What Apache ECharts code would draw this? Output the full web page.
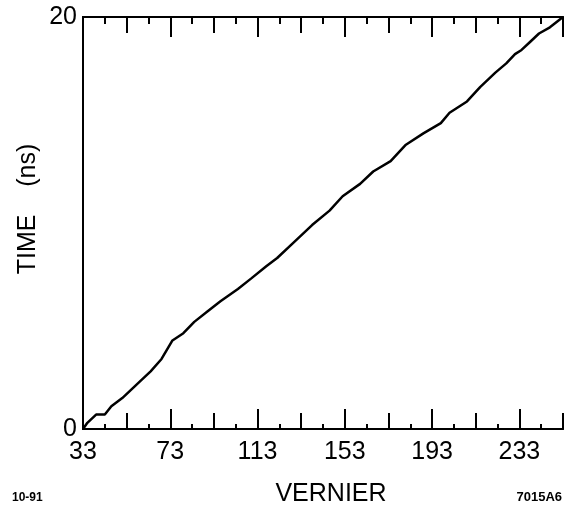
<!DOCTYPE html>
<html>
<head>
<meta charset="utf-8">
<script src="https://cdn.jsdelivr.net/npm/echarts@6/dist/echarts.min.js"></script>
<style>
  html, body { margin: 0; padding: 0; background: #fff; }
  #main { width: 568px; height: 509px; }
</style>
</head>
<body>
<div id="main"></div>
<script>
  var chart = echarts.init(document.getElementById('main'));

  var vernier = [33, 35, 39, 43, 46, 51, 55, 59, 64, 69, 74, 79, 84, 90, 96, 104, 110, 117, 122, 129,
                 138, 146, 152, 160, 166, 174, 181, 189, 197, 201, 209, 215, 222, 227, 231, 234, 238, 242, 247, 253];
  var timeNs = [0, 0.3, 0.7, 0.7, 1.1, 1.5, 1.9, 2.3, 2.8, 3.4, 4.3, 4.65, 5.2, 5.7, 6.2, 6.8, 7.3, 7.9, 8.3, 9.0,
                9.9, 10.6, 11.3, 11.9, 12.5, 13.0, 13.8, 14.35, 14.85, 15.35, 15.9, 16.6, 17.3, 17.75, 18.2, 18.4, 18.8, 19.2, 19.5, 20];
  var xStart = 33, xEnd = 253;
  var yTicks = [0, 20];

  var font = 'Liberation Sans, Arial, Helvetica, sans-serif';

  function xAxisDef(pos, interval, tickLen, labels, minorLen) {
    return {
      type: 'value', position: pos, min: 0, max: xEnd - xStart, interval: interval,
      axisLine: { show: true, lineStyle: { color: '#000', width: 2 } },
      axisTick: { show: true, inside: true, length: tickLen, lineStyle: { color: '#000', width: 2 } },
      minorTick: { show: !!minorLen, splitNumber: 2, length: minorLen || 0, lineStyle: { color: '#000', width: 2 } },
      splitLine: { show: false },
      minorSplitLine: { show: false },
      axisLabel: {
        show: labels, showMaxLabel: false, margin: 11,
        fontFamily: font, fontSize: 25, color: '#000',
        formatter: function (v) { return String(v + xStart); }
      }
    };
  }

  var option = {
    animation: false,
    backgroundColor: '#fff',
    grid: { left: 83, right: 5, top: 17, bottom: 80 },
    xAxis: [
      xAxisDef('bottom', 40, 20, true, 0),
      xAxisDef('bottom', 20, 16, false, 5),
      xAxisDef('top', 40, 20, false, 0),
      xAxisDef('top', 20, 16, false, 7)
    ],
    yAxis: [
      {
        type: 'value', position: 'left', min: yTicks[0], max: yTicks[1], interval: 20,
        axisLine: { show: true, lineStyle: { color: '#000', width: 2 } },
        axisTick: { show: false },
        splitLine: { show: false },
        axisLabel: { margin: 6, fontFamily: font, fontSize: 25, color: '#000' }
      },
      {
        type: 'value', position: 'right', min: yTicks[0], max: yTicks[1], interval: 20,
        axisLine: { show: true, lineStyle: { color: '#000', width: 2 } },
        axisTick: { show: false },
        splitLine: { show: false },
        axisLabel: { show: false }
      }
    ],
    graphic: [
      { type: 'text', x: 16, y: 209, rotation: Math.PI / 2, style: {
          text: 'TIME    (ns)', fontFamily: font, fontSize: 25, fill: '#000',
          align: 'center', verticalAlign: 'top' } },
      { type: 'text', x: 331, y: 494, style: {
          text: 'VERNIER', fontFamily: font, fontSize: 25, fill: '#000',
          align: 'center', verticalAlign: 'middle' } },
      { type: 'text', x: 12, y: 498, style: {
          text: '10-91', fontFamily: font, fontSize: 12, fontWeight: 'bold', fill: '#000',
          align: 'left', verticalAlign: 'middle' } },
      { type: 'text', x: 562, y: 497, style: {
          text: '7015A6', fontFamily: font, fontSize: 13, fontWeight: 'bold', fill: '#000',
          align: 'right', verticalAlign: 'middle' } }
    ],
    series: [{
      type: 'line',
      xAxisIndex: 0,
      yAxisIndex: 0,
      showSymbol: false,
      lineStyle: { color: '#000', width: 2.5 },
      data: vernier.map(function (v, i) { return [v - xStart, timeNs[i]]; })
    }]
  };

  chart.setOption(option);
  window.onresize = chart.resize;
</script>
</body>
</html>
